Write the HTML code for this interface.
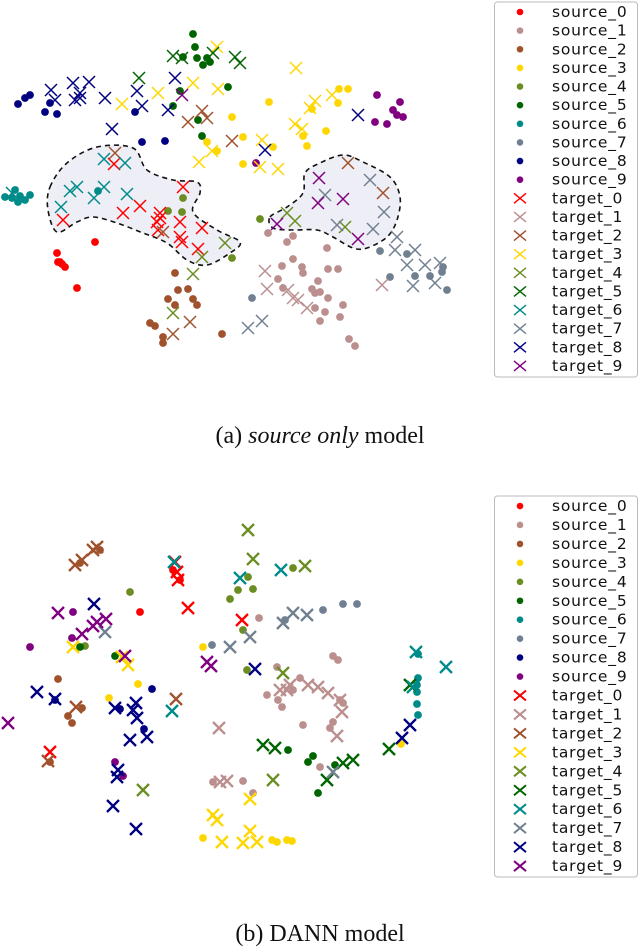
<!DOCTYPE html>
<html><head><meta charset="utf-8">
<style>
body{margin:0;background:#fff;width:640px;height:948px;overflow:hidden;position:relative;font-family:"Liberation Sans",sans-serif}
svg{position:absolute;left:0;top:0}
.cap{position:absolute;left:0;width:640px;text-align:center;font-family:"Liberation Serif",serif;font-size:24px;line-height:28px;color:#111}
</style></head>
<body>
<svg id="chart" width="640" height="948" viewBox="0 0 640 948"></svg>
<div class="cap" style="top:422px">(a) <i>source only</i> model</div>
<div class="cap" style="top:920px">(b) DANN model</div>
<script>
const classColors=["#ff0000","#bc8f8f","#a0522d","#ffd700","#6b8e23","#006400","#008b8b","#708090","#000080","#800080"];
// ---- panel (a) source only: source embeddings
const topSource0=[[95,242],[57,253],[58,262],[62,264],[65,267],[60,262],[77,288]];
const topSource1=[[268,233],[287,242],[293,236],[327,248],[293,259],[282,266],[302,267],[303,273],[328,269],[338,269],[278,279],[318,281],[312,289],[315,293],[320,292],[328,298],[343,305],[315,308],[325,312],[340,317],[320,321],[349,339],[355,346],[283,288]];
const topSource2=[[175,273],[178,290],[188,289],[168,299],[175,305],[193,299],[197,305],[150,323],[155,326],[163,337],[163,343],[222,334]];
const topSource3=[[269,102],[232,117],[207,142],[217,151],[243,137],[243,164],[307,146],[326,131],[303,136],[339,89],[348,89],[338,103],[312,109],[273,147]];
const topSource4=[[183,198],[182,212],[168,211],[260,219],[232,258]];
const topSource5=[[193,34],[195,47],[183,57],[197,58],[207,58],[203,65],[210,62],[228,87],[180,91],[173,106],[198,120],[202,136]];
const topSource6=[[15,190],[20,196],[12,198],[25,200],[30,195],[18,202],[5,197],[98,191]];
const topSource7=[[380,251],[390,277],[415,276],[430,276],[443,267],[447,290],[252,298],[442,272],[407,254]];
const topSource8=[[18,104],[25,98],[30,95],[45,112],[57,114],[50,103],[135,112],[142,142],[165,141]];
const topSource9=[[377,95],[400,102],[393,110],[397,115],[403,117],[375,122],[387,124],[256,163]];
// ---- panel (a): target embeddings
const topTarget0=[[114,164],[183,187],[123,213],[140,206],[63,220],[160,213],[157,222],[180,222],[158,230],[202,228],[180,237],[182,242],[198,249],[160,218]];
const topTarget1=[[265,271],[267,289],[288,290],[293,298],[307,308],[382,285],[298,300]];
const topTarget2=[[115,153],[202,111],[207,118],[188,122],[232,141],[348,163],[383,193],[163,232],[190,322],[173,334]];
const topTarget3=[[217,47],[296,68],[193,83],[158,93],[122,104],[218,89],[315,101],[332,95],[310,108],[295,124],[302,129],[262,140],[212,151],[199,162],[260,167],[278,169]];
const topTarget4=[[287,213],[295,221],[345,227],[225,243],[202,257],[193,274],[173,313]];
const topTarget5=[[173,56],[213,53],[235,57],[240,63],[139,78],[182,58]];
const topTarget6=[[104,159],[125,163],[77,187],[104,187],[70,191],[94,198],[127,194],[61,207],[12,193]];
const topTarget7=[[370,180],[325,195],[384,212],[337,225],[373,229],[397,237],[415,250],[395,250],[407,265],[425,265],[440,263],[413,286],[435,283],[262,321],[248,328]];
const topTarget8=[[51,90],[73,83],[89,82],[80,93],[75,100],[55,100],[105,98],[137,91],[142,106],[175,78],[168,110],[112,129],[358,115],[265,150],[80,98]];
const topTarget9=[[182,95],[319,178],[318,203],[343,199],[277,224],[358,239]];
// ---- panel (b) DANN: source embeddings
const botSource0=[[140,612],[173,570],[180,580]];
const botSource1=[[259,618],[333,656],[338,660],[277,667],[267,695],[278,700],[282,707],[300,678],[340,700],[343,703],[303,725],[330,728],[333,722],[320,767],[243,781],[253,793],[213,782],[293,690]];
const botSource2=[[58,679],[68,716],[72,723],[82,708],[50,762],[100,550],[80,563]];
const botSource3=[[203,647],[138,684],[109,698],[401,744],[203,838],[277,842],[287,840],[292,841],[272,840]];
const botSource4=[[130,592],[248,577],[253,589],[238,590],[230,599],[293,568],[243,630],[85,646],[247,670]];
const botSource5=[[115,656],[80,647],[288,750],[313,756],[308,762],[318,793],[335,765]];
const botSource6=[[418,678],[417,685],[417,692],[417,704],[418,715],[418,654]];
const botSource7=[[323,610],[343,604],[357,604],[212,645],[285,620]];
const botSource8=[[152,689],[120,709],[144,729],[55,700]];
const botSource9=[[30,647],[73,612],[72,638],[115,762],[123,776]];
// ---- panel (b): target embeddings
const botTarget0=[[175,562],[177,572],[188,608],[242,620],[50,752],[178,580]];
const botTarget1=[[280,690],[290,685],[308,685],[318,687],[328,693],[342,712],[337,736],[219,728],[220,782],[227,781],[287,690],[340,700]];
const botTarget2=[[75,565],[93,550],[82,560],[176,699],[76,707],[48,761],[97,547]];
const botTarget3=[[73,647],[122,657],[128,665],[250,799],[213,815],[217,820],[250,831],[222,842],[243,843],[257,842]];
const botTarget4=[[248,530],[253,559],[305,566],[283,673],[273,780],[143,790]];
const botTarget5=[[263,745],[275,748],[343,763],[353,760],[327,780],[389,749],[410,685]];
const botTarget6=[[174,562],[240,578],[281,570],[172,711],[416,652],[446,667],[413,687]];
const botTarget7=[[105,632],[250,637],[230,647],[283,623],[293,613],[307,615],[333,772]];
const botTarget8=[[94,604],[37,692],[55,699],[115,708],[136,703],[133,710],[137,718],[130,740],[147,737],[118,770],[117,777],[113,806],[136,829],[255,669],[410,725],[402,738]];
const botTarget9=[[58,613],[82,634],[93,626],[106,619],[97,622],[8,723],[207,662],[211,666],[125,656]];
const legendLabels=["source_0","source_1","source_2","source_3","source_4","source_5","source_6","source_7","source_8","source_9","target_0","target_1","target_2","target_3","target_4","target_5","target_6","target_7","target_8","target_9"];
const regionLeft=[[50,187],[67,163],[97,147],[133,148],[147,170],[173,180],[197,182],[200,193],[193,212],[217,230],[240,242],[230,253],[207,265],[187,260],[167,243],[143,233],[117,223],[93,217],[77,222],[57,232],[48,210]];
const regionRight=[[270,217],[287,207],[303,193],[305,173],[320,163],[343,155],[363,162],[390,177],[400,197],[397,220],[387,237],[367,248],[353,248],[333,237],[317,230],[293,230],[273,228]];

const NS="http://www.w3.org/2000/svg";
const svg=document.getElementById('chart');
function sx(v){return 0+v*1;}
function sy(v){return 0+v*1;}
function mk(tag,attrs,parent){const e=document.createElementNS(NS,tag);for(const k in attrs)e.setAttribute(k,attrs[k]);(parent||svg).appendChild(e);return e;}

function region(pts,name){
  let d="";
  const n=pts.length;
  const P=pts.map(p=>[sx(p[0]),sy(p[1])]);
  d+="M"+P[0][0]+","+P[0][1];
  for(let i=0;i<n;i++){
    const p0=P[(i-1+n)%n],p1=P[i],p2=P[(i+1)%n],p3=P[(i+2)%n];
    const c1=[p1[0]+(p2[0]-p0[0])/6,p1[1]+(p2[1]-p0[1])/6];
    const c2=[p2[0]-(p3[0]-p1[0])/6,p2[1]-(p3[1]-p1[1])/6];
    d+=" C"+c1[0].toFixed(1)+","+c1[1].toFixed(1)+" "+c2[0].toFixed(1)+","+c2[1].toFixed(1)+" "+p2[0]+","+p2[1];
  }
  const e=mk('path',{d:d+"Z",fill:"#eeeef6",stroke:"#111","stroke-width":1.6,"stroke-dasharray":"5,4"});
  
  
}
region(regionLeft,'dashed-region-left');
region(regionRight,'dashed-region-right');

function dot(x,y,c,r,name){
  const e=mk('circle',{cx:x,cy:y,r:r,fill:c});
  
  
}
function cross(x,y,c,h,w,name){
  const e=mk('path',{d:`M${x-h},${y-h}L${x+h},${y+h}M${x-h},${y+h}L${x+h},${y-h}`,stroke:c,"stroke-width":w,fill:"none"});
  
  
}
const topSrc=[topSource0,topSource1,topSource2,topSource3,topSource4,topSource5,topSource6,topSource7,topSource8,topSource9];
const topTgt=[topTarget0,topTarget1,topTarget2,topTarget3,topTarget4,topTarget5,topTarget6,topTarget7,topTarget8,topTarget9];
const botSrc=[botSource0,botSource1,botSource2,botSource3,botSource4,botSource5,botSource6,botSource7,botSource8,botSource9];
const botTgt=[botTarget0,botTarget1,botTarget2,botTarget3,botTarget4,botTarget5,botTarget6,botTarget7,botTarget8,botTarget9];
topSrc.forEach((arr,k)=>arr.forEach(p=>dot(sx(p[0]),sy(p[1]),classColors[k],3.9,'source-point-a')));
topTgt.forEach((arr,k)=>arr.forEach(p=>cross(sx(p[0]),sy(p[1]),classColors[k],6,1.5,'target-point-a')));
botSrc.forEach((arr,k)=>arr.forEach(p=>dot(sx(p[0]),sy(p[1]),classColors[k],3.9,'source-point-b')));
botTgt.forEach((arr,k)=>arr.forEach(p=>cross(sx(p[0]),sy(p[1]),classColors[k],6,2.3,'target-point-b')));

function legend(y0,h,step,name,bold){
  const g=mk('g',{});
  
  
  mk('rect',{x:494.5,y:y0,width:143,height:h,rx:3,fill:"#fff",stroke:"#bbb","stroke-width":1},g);
  legendLabels.forEach((lab,i)=>{
    const y=y0+10+i*step;
    const item=mk('g',{},g);
    
    
    const c=classColors[i%10];
    if(i<10) mk('circle',{cx:520,cy:y,r:3.3,fill:c},item);
    else mk('path',{d:`M514,${y-5}L526,${y+5}M514,${y+5}L526,${y-5}`,stroke:c,"stroke-width":bold?2:1.4},item);
    const t=mk('text',{x:552,y:y+5,"font-family":"DejaVu Sans, sans-serif","font-size":15.5,"letter-spacing":0.8,fill:"#111"},item);
    t.textContent=lab;
  });
}
legend(2,375,18.63,'legend-a',false);
legend(496,381,18.95,'legend-b',true);
</script>
</body></html>
